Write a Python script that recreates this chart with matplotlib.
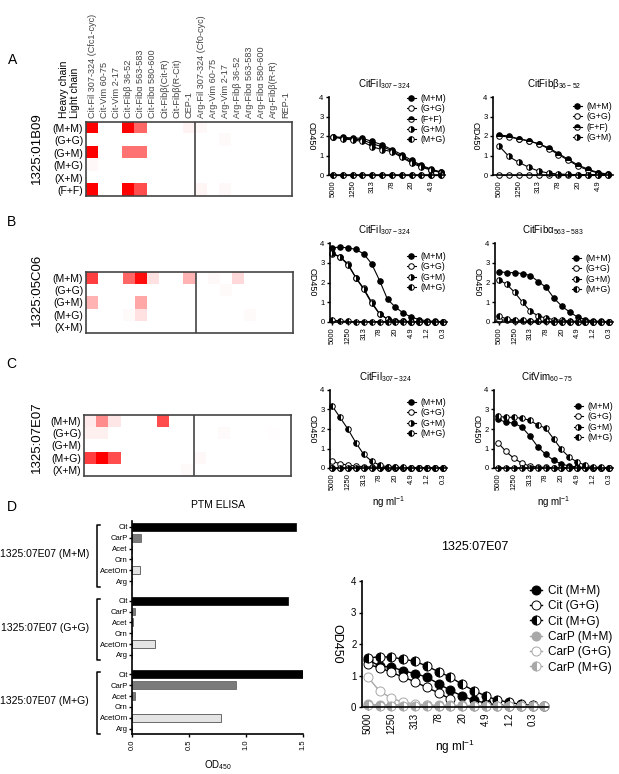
import matplotlib.pyplot as plt
import matplotlib.transforms as mtransforms
import numpy as np
from matplotlib.colors import LinearSegmentedColormap

plt.rcParams['font.family'] = ['Liberation Sans', 'DejaVu Sans']
plt.rcParams['mathtext.fontset'] = 'custom'
plt.rcParams['mathtext.rm'] = 'Liberation Sans'
plt.rcParams['mathtext.it'] = 'Liberation Sans:italic'

W, H = 619, 774

# ---------------- data ----------------
peptides = ['Cit-Fil 307-324 (Cfc1-cyc)', 'Cit-Vim 60-75', 'Cit-Vim 2-17', 'Cit-Fibβ 36-52',
            'Cit-Fibα 563-583', 'Cit-Fibα 580-600', 'Cit-Fibβ(Cit-R)', 'Cit-Fibβ(R-Cit)', 'CEP-1',
            'Arg-Fil 307-324 (Cf0-cyc)', 'Arg-Vim 60-75', 'Arg-Vim 2-17', 'Arg-Fibβ 36-52',
            'Arg-Fibα 563-583', 'Arg-Fibα 580-600', 'Arg-Fibβ(R-R)', 'REP-1']
rows_A = ['(M+M)', '(G+G)', '(G+M)', '(M+G)', '(X+M)', '(F+F)']
rows_BC = ['(M+M)', '(G+G)', '(G+M)', '(M+G)', '(X+M)']

heat_A = [
    [1.0, 0, 0, 1.0, 0.6, 0, 0, 0, 0.05, 0.03, 0, 0, 0, 0, 0, 0, 0],
    [0, 0, 0, 0, 0, 0, 0, 0, 0, 0, 0, 0.02, 0, 0, 0, 0, 0],
    [1.0, 0, 0, 0.55, 0.55, 0, 0, 0, 0, 0, 0, 0, 0, 0, 0, 0, 0],
    [0.03, 0, 0, 0, 0, 0, 0, 0, 0, 0, 0, 0, 0, 0, 0, 0, 0],
    [0, 0, 0, 0, 0, 0, 0, 0, 0, 0, 0, 0, 0, 0, 0, 0, 0],
    [1.0, 0, 0, 1.0, 0.7, 0, 0, 0, 0, 0.04, 0, 0.03, 0, 0, 0, 0, 0],
]
heat_B = [
    [0.75, 0, 0, 0.6, 0.95, 0.12, 0, 0, 0.3, 0, 0.03, 0, 0.15, 0, 0, 0, 0],
    [0, 0, 0, 0, 0, 0, 0, 0, 0, 0, 0, 0.02, 0, 0, 0, 0, 0],
    [0.3, 0, 0, 0, 0.35, 0, 0, 0, 0, 0, 0, 0, 0, 0, 0, 0, 0],
    [0, 0, 0, 0.02, 0.12, 0, 0, 0, 0, 0, 0, 0, 0, 0.02, 0, 0, 0],
    [0, 0, 0, 0, 0, 0, 0, 0, 0, 0, 0, 0, 0, 0, 0, 0, 0],
]
heat_C = [
    [0.08, 0.45, 0.1, 0, 0, 0, 0.7, 0, 0, 0, 0, 0, 0, 0, 0, 0, 0],
    [0.06, 0.06, 0, 0, 0, 0, 0, 0, 0, 0, 0, 0.02, 0, 0, 0, 0.01, 0],
    [0, 0, 0, 0, 0, 0, 0, 0, 0, 0, 0, 0, 0, 0, 0, 0, 0],
    [0.75, 1.0, 0.7, 0, 0, 0, 0, 0, 0, 0.03, 0, 0, 0, 0, 0, 0, 0],
    [0, 0, 0, 0, 0, 0, 0, 0, 0.02, 0, 0, 0, 0, 0, 0, 0, 0],
]

dil_labels = ['5000', '1250', '313', '78', '20', '4.9', '1.2', '0.3']

# A: CitFil 307-324
a_fil_mm = [1.95, 1.93, 1.9, 1.88, 1.72, 1.55, 1.3, 1.05, 0.75, 0.5, 0.3, 0.15]
a_fil_gg = [0.0, 0.0, 0.0, 0.0, 0.0, 0.0, 0.0, 0.0, 0.0, 0.0, 0.0, 0.0]
a_fil_ff = [1.97, 1.9, 1.85, 1.8, 1.6, 1.45, 1.25, 0.95, 0.68, 0.45, 0.27, 0.13]
a_fil_gm = [1.95, 1.85, 1.8, 1.72, 1.45, 1.3, 1.2, 0.9, 0.62, 0.4, 0.25, 0.12]
a_fil_mg = [0.02, 0.02, 0.02, 0.02, 0.02, 0.02, 0.02, 0.02, 0.02, 0.02, 0.02, 0.02]
# A: CitFibβ 36-52
a_fib_mm = [2.05, 2.0, 1.85, 1.75, 1.6, 1.4, 1.1, 0.8, 0.5, 0.3, 0.12, 0.05]
a_fib_gg = [0.0, 0.0, 0.0, 0.0, 0.0, 0.0, 0.0, 0.0, 0.0, 0.0, 0.0, 0.0]
a_fib_ff = [2.0, 1.95, 1.85, 1.75, 1.6, 1.35, 1.05, 0.75, 0.45, 0.25, 0.1, 0.05]
a_fib_gm = [1.5, 0.95, 0.65, 0.4, 0.2, 0.1, 0.05, 0.03, 0.02, 0.02, 0.02, 0.02]

# B: CitFil 307-324
b_fil_mm = [3.75, 3.8, 3.75, 3.68, 3.45, 2.95, 2.1, 1.15, 0.75, 0.45, 0.25, 0.12, 0.06, 0.03, 0.02]
b_fil_gg = [3.45, 3.3, 2.95, 2.25, 1.7, 1.0, 0.42, 0.15, 0.06, 0.03, 0.02, 0.02, 0.02, 0.02, 0.02]
b_fil_gm = [3.5, 3.3, 2.9, 2.25, 1.65, 0.95, 0.4, 0.15, 0.06, 0.03, 0.02, 0.02, 0.02, 0.02, 0.02]
b_fil_mg = [0.1, 0.05, 0.03, 0.02, 0.02, 0.02, 0.02, 0.02, 0.02, 0.02, 0.02, 0.02, 0.02, 0.02, 0.02]
# B: CitFibα 563-583
b_fib_mm = [2.55, 2.5, 2.5, 2.45, 2.35, 2.05, 1.75, 1.2, 0.8, 0.5, 0.25, 0.12, 0.05, 0.03, 0.02]
b_fib_gg = [0.12, 0.08, 0.06, 0.05, 0.04, 0.03, 0.03, 0.02, 0.02, 0.02, 0.02, 0.02, 0.02, 0.02, 0.02]
b_fib_gm = [2.15, 1.9, 1.5, 1.0, 0.55, 0.3, 0.2, 0.12, 0.08, 0.05, 0.03, 0.02, 0.02, 0.02, 0.02]
b_fib_mg = [0.3, 0.15, 0.1, 0.08, 0.05, 0.04, 0.03, 0.02, 0.02, 0.02, 0.02, 0.02, 0.02, 0.02, 0.02]

# C: CitFil 307-324
c_fil_mm = [0.02] * 15
c_fil_gg = [0.35, 0.22, 0.15, 0.1, 0.07, 0.05, 0.04, 0.03, 0.03, 0.02, 0.02, 0.02, 0.02, 0.02, 0.02]
c_fil_gm = [0.02] * 15
c_fil_mg = [3.2, 2.6, 2.0, 1.3, 0.7, 0.35, 0.15, 0.06, 0.04, 0.03, 0.02, 0.02, 0.02, 0.02, 0.02]
# C: CitVim 60-75
c_vim_mm = [2.5, 2.35, 2.3, 2.1, 1.65, 1.1, 0.7, 0.4, 0.2, 0.1, 0.05, 0.03, 0.02, 0.02, 0.02]
c_vim_gg = [1.3, 0.85, 0.5, 0.25, 0.1, 0.05, 0.03, 0.02, 0.02, 0.02, 0.02, 0.02, 0.02, 0.02, 0.02]
c_vim_gm = [0.02] * 15
c_vim_mg = [2.65, 2.6, 2.6, 2.55, 2.45, 2.2, 2.05, 1.5, 0.95, 0.55, 0.3, 0.15, 0.05, 0.03, 0.02]

# D: PTM ELISA
ptm = ['Cit', 'CarP', 'Acet', 'Orn', 'AcetOrn', 'Arg']
groups = ['1325:07E07 (M+M)', '1325:07E07 (G+G)', '1325:07E07 (M+G)']
bar_mm = [1.44, 0.08, 0.0, 0.0, 0.07, 0.0]
bar_gg = [1.37, 0.025, 0.01, 0.0, 0.2, 0.0]
bar_mg = [1.50, 0.91, 0.03, 0.0, 0.78, 0.0]
bar_colors = ['black', '#7a7a7a', '#7a7a7a', '#7a7a7a', '#e4e4e4', '#7a7a7a']

# D: 1325:07E07 dilution
d_cit_mm = [1.5, 1.3, 1.27, 1.15, 1.06, 0.95, 0.74, 0.53, 0.35, 0.21, 0.13, 0.06, 0.04, 0.03, 0.02, 0.02]
d_cit_gg = [1.35, 1.25, 1.1, 0.95, 0.8, 0.62, 0.45, 0.25] + [np.nan] * 8
d_cit_mg = [1.55, 1.6, 1.58, 1.52, 1.45, 1.3, 1.12, 0.95, 0.72, 0.52, 0.35, 0.22, 0.15, 0.08, 0.05, 0.02]
d_carp_mm = [0.08, 0.07, 0.07, 0.07, 0.06, 0.06, 0.05, 0.05, 0.05, 0.04, 0.04, 0.04, 0.03, 0.03, 0.03, 0.03]
d_carp_gg = [0.95, 0.5, 0.28, 0.15, 0.1, 0.06, 0.04, 0.03, 0.03, 0.02, 0.02, 0.02, 0.02, 0.02, 0.02, 0.02]
d_carp_mg = [0.05, 0.04, 0.04, 0.03, 0.03, 0.03, 0.03, 0.02, 0.02, 0.02, 0.02, 0.02, 0.02, 0.02, 0.02, 0.02]

GREY = '#a8a8a8'

fig = plt.figure(figsize=(W / 100, H / 100), dpi=100)


def box(l, t, r, b):
    return [l / W, 1 - b / H, (r - l) / W, (b - t) / H]


def ftext(x, y, s, **kw):
    fig.text(x / W, 1 - y / H, s, **kw)


reds = LinearSegmentedColormap.from_list('wr', ['white', '#ff0000'])


def heatmap(rect, vals, rows, top_labels=False):
    ax = fig.add_axes(box(*rect))
    vals = np.array(vals)
    ax.imshow(vals, cmap=reds, vmin=0, vmax=1, aspect='auto',
              extent=(0, vals.shape[1], vals.shape[0], 0), interpolation='nearest')
    ax.axvline(9, color='#444444', lw=1.2)
    for s in ax.spines.values():
        s.set_color('#444444')
        s.set_linewidth(1.2)
    ax.set_yticks(np.arange(len(rows)) + 0.5)
    ax.set_yticklabels(rows, fontsize=7.5)
    ax.tick_params(axis='y', length=0, pad=2)
    if top_labels:
        ax.xaxis.tick_top()
        ax.set_xticks(np.arange(vals.shape[1]) + 0.5)
        ax.set_xticklabels(peptides, rotation=90, fontsize=6.6, color='#444444')
        ax.tick_params(axis='x', length=0, pad=3)
    else:
        ax.set_xticks([])
    return ax


def style_for(kind, color):
    if kind == 'filled':
        return dict(marker='o', mfc=color, mec=color)
    if kind == 'open':
        return dict(marker='o', mfc='white', mec=color)
    return dict(marker='o', fillstyle=kind, mfc=color, mfcalt='white', mec=color)


def dose_plot(rect, xlim, series, nlab, legend_at, ms=4.0, fs=6.3, lw=0.8, xlabel=False,
              lab_fs=5.5, ylab_fs=6.5, ylab_pad=9, lspace=0.15):
    ax = fig.add_axes(box(*rect))
    for label, vals, kind, color in series:
        x = np.arange(len(vals))
        ax.plot(x, vals, color=color, lw=lw, ms=ms, mew=0.7, clip_on=False, label=label,
                **style_for(kind, color))
    ax.set_xlim(*xlim)
    ax.set_ylim(0, 4)
    ax.set_yticks([0, 1, 2, 3, 4])
    ax.set_xticks(np.arange(nlab) * 2)
    ax.set_xticklabels(dil_labels[:nlab], rotation=90)
    ax.tick_params(labelsize=lab_fs, length=2.5, width=1, pad=1.5)
    for s in ['top', 'right']:
        ax.spines[s].set_visible(False)
    for s in ['left', 'bottom']:
        ax.spines[s].set_linewidth(1.2)
    ax.set_ylabel('OD450', rotation=270, fontsize=ylab_fs, labelpad=ylab_pad)
    if xlabel:
        ax.set_xlabel('ng ml$^{-1}$', fontsize=lab_fs + 1.5, labelpad=3)
    ax.legend(loc='upper left', bbox_to_anchor=(legend_at[0] / W, 1 - legend_at[1] / H),
              bbox_transform=fig.transFigure, frameon=False, fontsize=fs, handlelength=1.0,
              handletextpad=0.5, labelspacing=lspace, borderpad=0, borderaxespad=0)
    return ax


# ---------------- panel A ----------------
heatmap((86, 122, 292, 196), heat_A, rows_A, top_labels=True)
ftext(64, 118, 'Heavy chain', rotation=90, ha='center', va='bottom', fontsize=7.5)
ftext(75, 118, 'Light chain', rotation=90, ha='center', va='bottom', fontsize=7.5)
ftext(37, 148, '1325:01B09', rotation=90, ha='center', va='center', fontsize=9.5)
ftext(13, 60, 'A', ha='center', va='center', fontsize=10)

dose_plot((329, 97, 445, 175), (-0.4, 11.4),
          [('(M+M)', a_fil_mm, 'filled', 'black'), ('(G+G)', a_fil_gg, 'open', 'black'),
           ('(F+F)', a_fil_ff, 'top', 'black'), ('(G+M)', a_fil_gm, 'right', 'black'),
           ('(M+G)', a_fil_mg, 'left', 'black')], 6, (407, 94))
ftext(385, 84, 'CitFil$_{307-324}$', ha='center', va='center', fontsize=7)

dose_plot((493, 97, 613, 175), (-0.6, 11.5),
          [('(M+M)', a_fib_mm, 'filled', 'black'), ('(G+G)', a_fib_gg, 'open', 'black'),
           ('(F+F)', a_fib_ff, 'top', 'black'), ('(G+M)', a_fib_gm, 'right', 'black')],
          6, (573, 102))
ftext(554, 84, 'CitFibβ$_{36-52}$', ha='center', va='center', fontsize=7)

# ---------------- panel B ----------------
heatmap((86, 272, 293, 333), heat_B, rows_BC)
ftext(37, 290, '1325:05C06', rotation=90, ha='center', va='center', fontsize=9.5)
ftext(12, 222, 'B', ha='center', va='center', fontsize=10)

dose_plot((330, 243, 447, 322), (-0.25, 14.5),
          [('(M+M)', b_fil_mm, 'filled', 'black'), ('(G+G)', b_fil_gg, 'open', 'black'),
           ('(G+M)', b_fil_gm, 'right', 'black'), ('(M+G)', b_fil_mg, 'left', 'black')],
          8, (407, 252))
ftext(385, 230, 'CitFil$_{307-324}$', ha='center', va='center', fontsize=7)

dose_plot((495, 243, 613, 322), (-0.5, 14.5),
          [('(M+M)', b_fib_mm, 'filled', 'black'), ('(G+G)', b_fib_gg, 'open', 'black'),
           ('(G+M)', b_fib_gm, 'right', 'black'), ('(M+G)', b_fib_mg, 'left', 'black')],
          8, (572, 254))
ftext(553, 230, 'CitFibα$_{563-583}$', ha='center', va='center', fontsize=7)

# ---------------- panel C ----------------
heatmap((84, 415, 291, 476), heat_C, rows_BC)
ftext(37, 437, '1325:07E07', rotation=90, ha='center', va='center', fontsize=9.5)
ftext(11, 364, 'C', ha='center', va='center', fontsize=10)

dose_plot((330, 390, 447, 468), (-0.25, 14.5),
          [('(M+M)', c_fil_mm, 'filled', 'black'), ('(G+G)', c_fil_gg, 'open', 'black'),
           ('(G+M)', c_fil_gm, 'right', 'black'), ('(M+G)', c_fil_mg, 'left', 'black')],
          8, (407, 398), xlabel=True)
ftext(386, 377, 'CitFil$_{307-324}$', ha='center', va='center', fontsize=7)

dose_plot((494, 390, 613, 468), (-0.5, 14.5),
          [('(M+M)', c_vim_mm, 'filled', 'black'), ('(G+G)', c_vim_gg, 'open', 'black'),
           ('(G+M)', c_vim_gm, 'right', 'black'), ('(M+G)', c_vim_mg, 'left', 'black')],
          8, (574, 402), xlabel=True)
ftext(547, 377, 'CitVim$_{60-75}$', ha='center', va='center', fontsize=7)

# ---------------- panel D: bars ----------------
ftext(12, 507, 'D', ha='center', va='center', fontsize=10)
ftext(218, 505, 'PTM ELISA', ha='center', va='center', fontsize=7.5)

axd = fig.add_axes(box(132, 521, 303, 734))
gstep = 6.8
pos, labels = [], []
for g, vals in enumerate([bar_mm, bar_gg, bar_mg]):
    y = g * gstep + np.arange(len(ptm))
    axd.barh(y, vals, height=0.72, color=bar_colors, edgecolor=['black', '#555555', '#555555',
             '#555555', '#333333', '#555555'], linewidth=0.5)
    pos.extend(y)
    labels.extend(ptm)
axd.set_ylim(2 * gstep + 5.5, -0.55)
axd.set_xlim(0, 1.5)
axd.set_yticks(pos)
axd.set_yticklabels(labels, fontsize=5.5)
axd.set_xticks([0, 0.5, 1.0, 1.5])
axd.set_xticklabels(['0.0', '0.5', '1.0', '1.5'], rotation=90)
axd.tick_params(axis='x', labelsize=5.5, length=2.5, width=1, pad=1.5)
axd.tick_params(axis='y', length=2, width=1, pad=1)
for s in ['top', 'right']:
    axd.spines[s].set_visible(False)
for s in ['left', 'bottom']:
    axd.spines[s].set_linewidth(1.2)
axd.set_xlabel('OD$_{450}$', fontsize=7, labelpad=6)
trans = mtransforms.blended_transform_factory(axd.transAxes, axd.transData)
for g, name in enumerate(groups):
    y0, y1 = g * gstep - 0.2, g * gstep + 5.5
    axd.plot([-0.185, -0.205, -0.205, -0.185], [y0, y0, y1, y1], color='black', lw=1.1,
             transform=trans, clip_on=False)
    axd.text(-0.25, g * gstep + 2.5, name, transform=trans, ha='right', va='center',
             fontsize=7.5)

# ---------------- panel D: dilution ----------------
dose_plot((362, 581, 548, 707), (-0.5, 15.3),
          [('Cit (M+M)', d_cit_mm, 'filled', 'black'), ('Cit (G+G)', d_cit_gg, 'open', 'black'),
           ('Cit (M+G)', d_cit_mg, 'left', 'black'), ('CarP (M+M)', d_carp_mm, 'filled', GREY),
           ('CarP (G+G)', d_carp_gg, 'open', GREY), ('CarP (M+G)', d_carp_mg, 'left', GREY)],
          8, (530, 585), ms=6.5, fs=8.5, lw=1.0, xlabel=True, lab_fs=7, ylab_fs=9,
          ylab_pad=15, lspace=0.28)
ftext(475, 547, '1325:07E07', ha='center', va='center', fontsize=9)

fig.savefig('out.png', dpi=100)
